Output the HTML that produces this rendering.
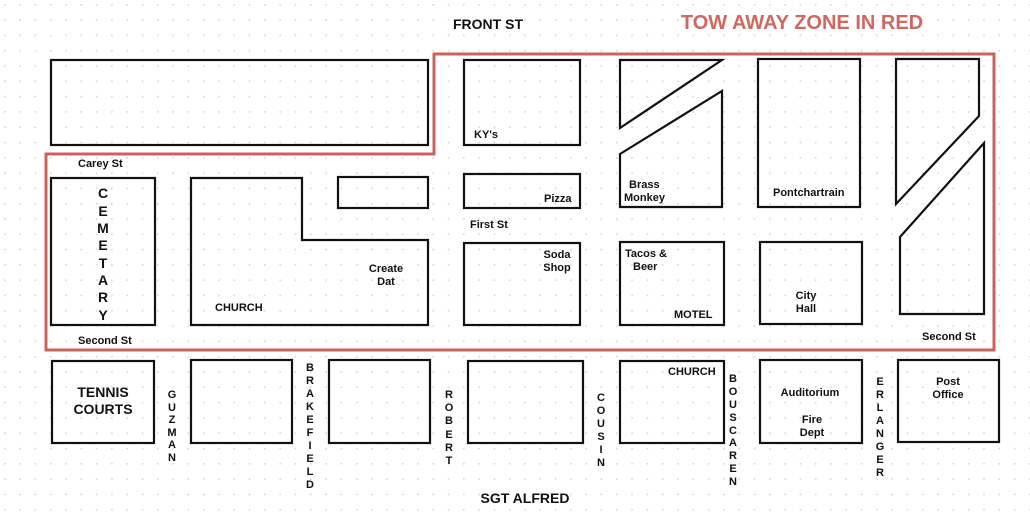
<!DOCTYPE html>
<html><head><meta charset="utf-8"><style>
html,body{margin:0;padding:0;background:#fff;}
svg{display:block;}
text{font-family:"Liberation Sans",Arial,sans-serif;font-weight:bold;fill:#111;}
.s{font-size:11px;}
.v{font-size:11px;text-anchor:middle;}
</style></head><body>
<svg width="1030" height="521" viewBox="0 0 1030 521" xmlns="http://www.w3.org/2000/svg">
<defs><pattern id="d" x="4" y="4" width="15.3" height="15.3" patternUnits="userSpaceOnUse"><circle cx="0.8" cy="0.8" r="0.9" fill="#d4d4d4"/></pattern></defs>
<rect width="1030" height="521" fill="#fff"/>
<rect width="1030" height="521" fill="url(#d)"/>
<path d="M46 154 H434 V54 H994 V350 H46 Z" fill="none" stroke="#c9635b" stroke-width="3"/>
<g fill="none" stroke="#111" stroke-width="2.2">
<rect x="51" y="60" width="377" height="85"/>
<rect x="464" y="60" width="116" height="85"/>
<polygon points="620,60 722,60 620,128"/>
<polygon points="620,154 722,91 722,207 620,207"/>
<rect x="758" y="59" width="102" height="148"/>
<polygon points="896,59 979,59 979,116 896,204"/>
<polygon points="900,237 984,143 984,314 900,314"/>
<rect x="51" y="178" width="104" height="147"/>
<polygon points="191,178 302,178 302,240 428,240 428,325 191,325"/>
<rect x="338" y="177" width="90" height="31"/>
<rect x="464" y="174" width="116" height="34"/>
<rect x="464" y="243" width="116" height="82"/>
<rect x="620" y="242" width="104" height="83"/>
<rect x="760" y="242" width="102" height="82"/>
<rect x="52" y="361" width="102" height="82"/>
<rect x="191" y="360" width="101" height="83"/>
<rect x="329" y="360" width="101" height="83"/>
<rect x="468" y="361" width="115" height="82"/>
<rect x="620" y="361" width="104" height="82"/>
<rect x="760" y="360" width="102" height="83"/>
<rect x="898" y="360" width="101" height="82"/>
</g>
<text x="488" y="29" font-size="14" text-anchor="middle">FRONT ST</text>
<text x="802" y="29" font-size="20" text-anchor="middle" style="fill:#cf6860">TOW AWAY ZONE IN RED</text>
<text x="525" y="503" font-size="14" text-anchor="middle">SGT ALFRED</text>
<text class="s" x="78" y="167">Carey St</text>
<text class="s" x="78" y="344">Second St</text>
<text class="s" x="922" y="340">Second St</text>
<text class="s" x="470" y="228">First St</text>
<text class="s" x="474" y="138">KY's</text>
<text class="s" x="544" y="202">Pizza</text>
<text class="s" x="557" y="258" text-anchor="middle">Soda</text>
<text class="s" x="557" y="271" text-anchor="middle">Shop</text>
<text class="s" x="386" y="272" text-anchor="middle">Create</text>
<text class="s" x="386" y="285" text-anchor="middle">Dat</text>
<text class="s" x="215" y="311">CHURCH</text>
<text class="s" x="629" y="188">Brass</text>
<text class="s" x="624" y="201">Monkey</text>
<text class="s" x="773" y="196">Pontchartrain</text>
<text class="s" x="625" y="257">Tacos &amp;</text>
<text class="s" x="633" y="270">Beer</text>
<text class="s" x="674" y="318">MOTEL</text>
<text class="s" x="806" y="299" text-anchor="middle">City</text>
<text class="s" x="806" y="312" text-anchor="middle">Hall</text>
<text class="s" x="668" y="375">CHURCH</text>
<text class="s" x="810" y="396" text-anchor="middle">Auditorium</text>
<text class="s" x="812" y="423" text-anchor="middle">Fire</text>
<text class="s" x="812" y="436" text-anchor="middle">Dept</text>
<text class="s" x="948" y="385" text-anchor="middle">Post</text>
<text class="s" x="948" y="398" text-anchor="middle">Office</text>
<text x="103" y="397" font-size="14" text-anchor="middle">TENNIS</text>
<text x="103" y="414" font-size="14" text-anchor="middle">COURTS</text>
<text font-size="14" text-anchor="middle"><tspan x="103" y="198">C</tspan><tspan x="103" y="216">E</tspan><tspan x="103" y="233">M</tspan><tspan x="103" y="250">E</tspan><tspan x="103" y="268">T</tspan><tspan x="103" y="285">A</tspan><tspan x="103" y="302">R</tspan><tspan x="103" y="320">Y</tspan></text>
<text class="v"><tspan x="172" y="398">G</tspan><tspan x="172" y="411">U</tspan><tspan x="172" y="423">Z</tspan><tspan x="172" y="436">M</tspan><tspan x="172" y="448">A</tspan><tspan x="172" y="461">N</tspan></text>
<text class="v"><tspan x="310" y="371">B</tspan><tspan x="310" y="384">R</tspan><tspan x="310" y="397">A</tspan><tspan x="310" y="410">K</tspan><tspan x="310" y="423">E</tspan><tspan x="310" y="436">F</tspan><tspan x="310" y="449">I</tspan><tspan x="310" y="462">E</tspan><tspan x="310" y="475">L</tspan><tspan x="310" y="488">D</tspan></text>
<text class="v"><tspan x="449" y="398">R</tspan><tspan x="449" y="411">O</tspan><tspan x="449" y="424">B</tspan><tspan x="449" y="438">E</tspan><tspan x="449" y="451">R</tspan><tspan x="449" y="464">T</tspan></text>
<text class="v"><tspan x="601" y="401">C</tspan><tspan x="601" y="414">O</tspan><tspan x="601" y="427">U</tspan><tspan x="601" y="440">S</tspan><tspan x="601" y="453">I</tspan><tspan x="601" y="466">N</tspan></text>
<text class="v"><tspan x="733" y="382">B</tspan><tspan x="733" y="395">O</tspan><tspan x="733" y="408">U</tspan><tspan x="733" y="421">S</tspan><tspan x="733" y="434">C</tspan><tspan x="733" y="446">A</tspan><tspan x="733" y="459">R</tspan><tspan x="733" y="472">E</tspan><tspan x="733" y="485">N</tspan></text>
<text class="v"><tspan x="880" y="385">E</tspan><tspan x="880" y="398">R</tspan><tspan x="880" y="411">L</tspan><tspan x="880" y="424">A</tspan><tspan x="880" y="437">N</tspan><tspan x="880" y="450">G</tspan><tspan x="880" y="463">E</tspan><tspan x="880" y="476">R</tspan></text>
</svg>
</body></html>
